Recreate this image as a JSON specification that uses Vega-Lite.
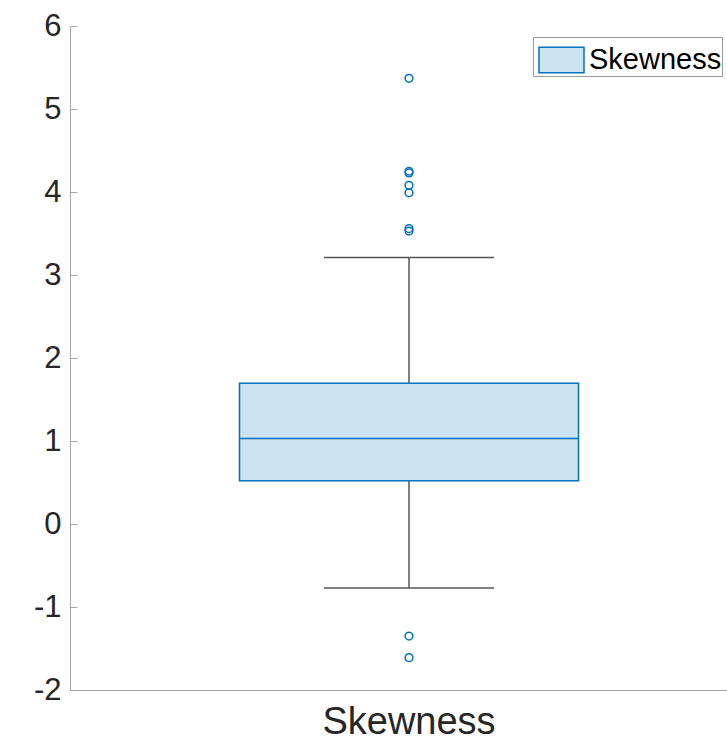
{
  "$schema": "https://vega.github.io/schema/vega-lite/v6.json",
  "width": 657,
  "height": 664,
  "autosize": {"type": "none"},
  "padding": {"left": 70, "top": 26, "right": 0, "bottom": 54},
  "config": {"view": {"stroke": null}, "font": "Liberation Sans"},
  "datasets": {
    "box": [{"group": "Skewness", "lower": -0.77, "q1": 0.52, "median": 1.03, "q3": 1.695, "upper": 3.21}],
    "out": [
      {"group": "Skewness", "value": 5.37},
      {"group": "Skewness", "value": 4.25},
      {"group": "Skewness", "value": 4.23},
      {"group": "Skewness", "value": 4.08},
      {"group": "Skewness", "value": 3.99},
      {"group": "Skewness", "value": 3.56},
      {"group": "Skewness", "value": 3.53},
      {"group": "Skewness", "value": -1.35},
      {"group": "Skewness", "value": -1.61}
    ]
  },
  "encoding": {
    "x": {
      "field": "group", "type": "nominal",
      "scale": {"type": "band", "range": [0, 678], "paddingInner": 0, "paddingOuter": 0},
      "axis": {"title": null, "ticks": false, "labelAngle": 0, "labelFontSize": 38, "labelColor": "#262626", "labelPadding": 13, "labelLimit": 400, "domainColor": "#a6a6a6", "domainWidth": 1}
    }
  },
  "layer": [
    {
      "data": {"name": "box"},
      "mark": {"type": "rule", "color": "#555555", "strokeWidth": 1.5},
      "encoding": {
        "y": {"field": "lower", "type": "quantitative",
          "scale": {"domain": [-2, 6], "nice": false, "zero": false},
          "axis": {"title": null, "values": [-2, -1, 0, 1, 2, 3, 4, 5, 6], "labelExpr": "toString(datum.value)", "grid": false, "ticks": true, "tickSize": -7, "tickWidth": 1, "labelPadding": 16, "labelFontSize": 31, "labelColor": "#262626", "domainColor": "#a6a6a6", "tickColor": "#a6a6a6"}},
        "y2": {"field": "upper"}
      }
    },
    {
      "data": {"name": "box"},
      "mark": {"type": "bar", "width": {"band": 0.5}, "stroke": "#0072BD", "strokeWidth": 1.5, "opacity": 1},
      "encoding": {
        "y": {"field": "q1", "type": "quantitative"},
        "y2": {"field": "q3"},
        "color": {"field": "group", "type": "nominal", "scale": {"range": ["#cce3f2"]},
          "legend": {"title": null, "orient": "none", "legendX": 463, "legendY": 11, "padding": 0,
            "strokeColor": "#999999", "fillColor": "white",
            "symbolType": "M-0.773,-0.582H1.273V0.582H-0.773Z", "symbolSize": 1936,
            "symbolStrokeColor": "#0072BD", "symbolStrokeWidth": 1.5, "symbolOpacity": 1,
            "labelFontSize": 29, "labelColor": "#000000", "labelOffset": 10, "labelLimit": 400}}
      }
    },
    {
      "data": {"name": "box"},
      "mark": {"type": "tick", "color": "#0072BD", "size": 339, "thickness": 1.5, "orient": "horizontal", "opacity": 1},
      "encoding": {"y": {"field": "median", "type": "quantitative"}}
    },
    {
      "data": {"name": "box"},
      "mark": {"type": "tick", "color": "#555555", "size": 170, "thickness": 1.5, "orient": "horizontal", "opacity": 1},
      "encoding": {"y": {"field": "upper", "type": "quantitative"}}
    },
    {
      "data": {"name": "box"},
      "mark": {"type": "tick", "color": "#555555", "size": 170, "thickness": 1.5, "orient": "horizontal", "opacity": 1},
      "encoding": {"y": {"field": "lower", "type": "quantitative"}}
    },
    {
      "data": {"name": "out"},
      "mark": {"type": "point", "shape": "circle", "filled": false, "color": "#0072BD", "size": 60, "strokeWidth": 1.5, "opacity": 1},
      "encoding": {"y": {"field": "value", "type": "quantitative"}}
    }
  ]
}
